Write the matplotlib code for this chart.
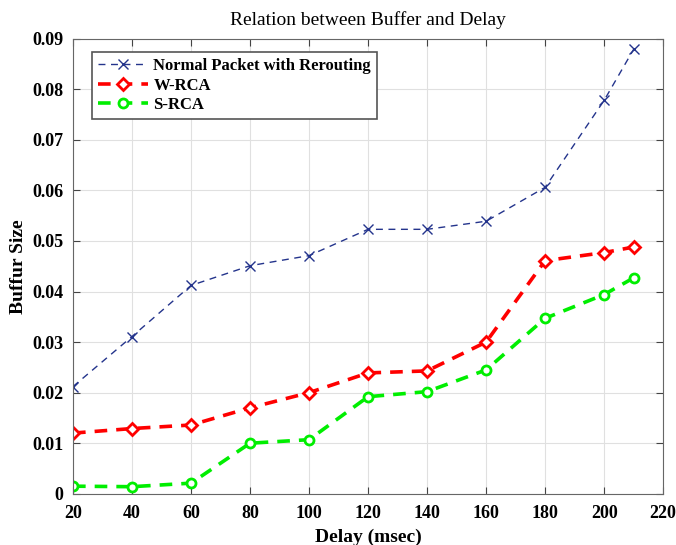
import matplotlib.pyplot as plt

# Data
delay = [20, 40, 60, 80, 100, 120, 140, 160, 180, 200, 210]
normal = [0.0212, 0.0311, 0.0412, 0.0451, 0.0471, 0.0523, 0.0523, 0.0539, 0.0606, 0.0778, 0.0879]
w_rca = [0.0120, 0.0129, 0.0136, 0.0170, 0.0200, 0.0239, 0.0243, 0.0300, 0.0461, 0.0477, 0.0488]
s_rca = [0.0015, 0.0014, 0.0021, 0.0100, 0.0107, 0.0192, 0.0202, 0.0245, 0.0347, 0.0394, 0.0427]

xticks = [20, 40, 60, 80, 100, 120, 140, 160, 180, 200, 220]
yticks = [0, 0.01, 0.02, 0.03, 0.04, 0.05, 0.06, 0.07, 0.08, 0.09]
ytick_labels = ['0', '0.01', '0.02', '0.03', '0.04', '0.05', '0.06', '0.07', '0.08', '0.09']

plt.rcParams['font.family'] = ['Liberation Serif', 'DejaVu Serif']

fig = plt.figure(figsize=(6.76, 5.45), dpi=100)
ax = fig.add_axes([0.108, 0.094, 0.873, 0.835])

ax.plot(delay, normal, color='#24348c', ls=(0, (5, 4)), marker='x', lw=1.0,
        ms=7, mew=1.0, label='Normal Packet with Rerouting')
ax.plot(delay, w_rca, color='#ff0000', ls=(0, (3.5, 2.5)), marker='D', lw=2.6,
        ms=6, mew=2.0, mfc='white', label='W-RCA')
ax.plot(delay, s_rca, color='#00ee00', ls=(0, (3.5, 2.5)), marker='o', lw=2.6,
        ms=6.5, mew=2.0, mfc='white', label='S-RCA')

ax.set_xlim(20, 220)
ax.set_ylim(0, 0.09)
ax.set_xticks(xticks)
ax.set_yticks(yticks)
ax.set_yticklabels(ytick_labels)
ax.tick_params(direction='in', top=True, right=True, length=5, color='#444444',
               labelsize=13)
ax.tick_params(axis='x', pad=8)
ax.tick_params(axis='y', pad=7)
for lab in ax.get_xticklabels() + ax.get_yticklabels():
    lab.set_fontweight('bold')
for s in ax.spines.values():
    s.set_color('#666666')

ax.grid(True, color='#e0e0e0', lw=0.8)
ax.set_axisbelow(True)

ax.set_xlabel('Delay (msec)', fontsize=14, fontweight='bold', labelpad=5)
ax.set_ylabel('Buffur Size', fontsize=14, fontweight='bold', labelpad=4)
ax.set_title('Relation between Buffer and Delay', fontsize=14, pad=10)

leg = ax.legend(loc='upper left', bbox_to_anchor=(0.033, 0.97), fancybox=False,
                edgecolor='#555555', framealpha=1, borderaxespad=0.0,
                prop={'weight': 'bold', 'size': 12}, handlelength=3.0,
                labelspacing=0.2, borderpad=0.35, handletextpad=0.3)
leg.get_frame().set_linewidth(1.2)

fig.savefig('out.png', dpi=100)
